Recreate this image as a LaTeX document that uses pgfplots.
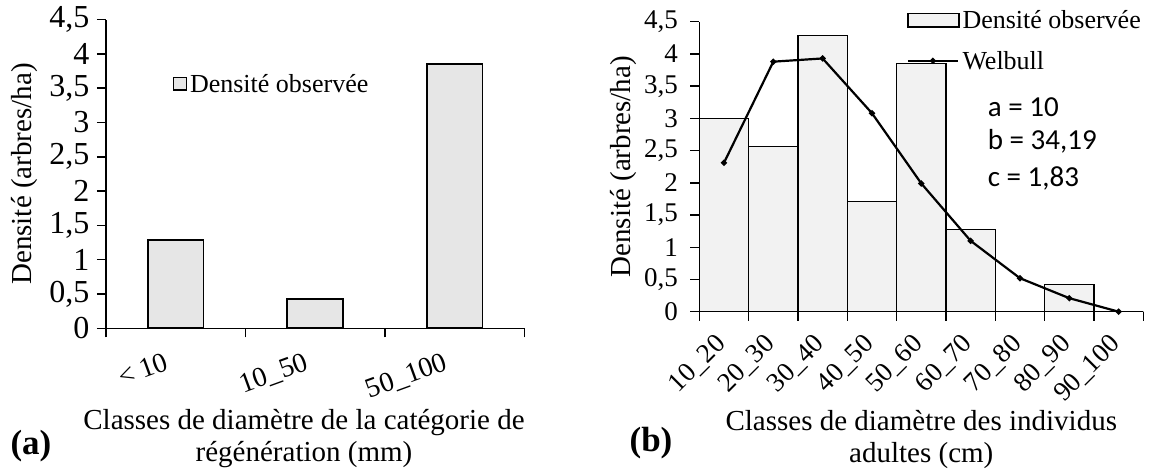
\documentclass[border=0pt]{standalone}
\usepackage{pgfplots}
\pgfplotsset{compat=1.18}
\usepackage{fontspec}
\setmainfont{Liberation Serif}
\newfontfamily\calibri{Carlito}
\definecolor{fillA}{RGB}{230,230,230}
\definecolor{fillB}{RGB}{242,242,242}

\pgfplotsset{
  mystyle/.style={
    scale only axis,
    axis lines*=left,
    axis line style={line width=1.5pt, black},
    tick align=outside,
    tick pos=left,
    major tick length=9pt,
    tick style={line width=1.5pt, black},
    /pgf/number format/assume math mode=true,
    yticklabel style={/pgf/number format/fixed, /pgf/number format/use comma, /pgf/number format/precision=1},
    ytick={0,0.5,1,1.5,2,2.5,3,3.5,4,4.5},
    ymin=0, ymax=4.5,
    x tick label as interval,
    clip=false,
  }
}

\begin{document}
\begin{tikzpicture}
\useasboundingbox (0pt,0pt) rectangle (1152pt,-472pt);

% ---------------- (a) ----------------
\begin{axis}[mystyle,
  at={(106pt,-328.3pt)}, anchor=south west,
  width=418.3pt, height=308.7pt,
  tick label style={font=\fontsize{32}{34}\selectfont},
  yticklabel style={xshift=-4pt},
  xmin=-0.5, xmax=2.5,
  xtick={-0.5,0.5,1.5,2.5},
  xticklabels={< 10,10\_50,50\_100},
  xticklabel style={font=\fontsize{28}{32}\selectfont, xshift=-10pt, yshift=-10pt, rotate=20, anchor=north east},
  every axis y label/.style={at={(-0.196,0.5)}, rotate=90, anchor=center, font=\fontsize{29}{32}\selectfont},
  ylabel={Densité (arbres/ha)},
  every axis x label/.style={at={(0.4733,-0.3586)}, anchor=center, align=center, font=\fontsize{29}{32}\selectfont},
  xlabel={Classes de diamètre de la catégorie de\\régénération (mm)},
  legend style={at={(0.16,0.792)}, anchor=west, draw=none, fill=none, inner sep=0pt,
    font=\fontsize{26}{30}\selectfont, nodes={inner xsep=3pt}},
  legend cell align=left,
]
\addplot[ybar, bar width=55.7pt, fill=fillA, draw=black, line width=1.8pt,
  legend image code/.code={\draw[fill=fillA, draw=black, line width=1.2pt] (0pt,-6.2pt) rectangle (12.7pt,6.2pt);}]
  coordinates {(0,1.29) (1,0.43) (2,3.85)};
\addlegendentry{Densité observée}
\end{axis}

% ---------------- (b) ----------------
\begin{axis}[mystyle,
  at={(699.3pt,-311.7pt)}, anchor=south west,
  width=444pt, height=290pt,
  tick label style={font=\fontsize{27}{30}\selectfont},
  yticklabel style={xshift=-9pt},
  xmin=0, xmax=9,
  xtick={0,1,2,3,4,5,6,7,8,9},
  xticklabels={10\_20,20\_30,30\_40,40\_50,50\_60,60\_70,70\_80,80\_90,90\_100},
  xticklabel style={font=\fontsize{27}{30}\selectfont, xshift=-10pt, yshift=-7pt, rotate=45, anchor=north east},
  every axis y label/.style={at={(-0.1696,0.5)}, rotate=90, anchor=center, font=\fontsize{29}{32}\selectfont},
  ylabel={Densité (arbres/ha)},
  every axis x label/.style={at={(0.5,-0.439)}, anchor=center, align=center, font=\fontsize{29}{32}\selectfont},
  xlabel={Classes de diamètre des individus\\adultes (cm)},
  legend style={at={(0.467,0.935)}, anchor=west, draw=none, fill=none, inner sep=0pt,
    font=\fontsize{26}{30}\selectfont, nodes={inner xsep=3pt}, row sep=17pt},
  legend cell align=left,
]
\addplot[ybar, bar width=1, fill=fillB, draw=black, line width=1.1pt,
  legend image code/.code={\draw[fill=fillB, draw=black, line width=1.1pt] (0pt,-6.7pt) rectangle (51pt,6.7pt);}]
  coordinates {(0.5,3.00) (1.5,2.57) (2.5,4.28) (3.5,1.71) (4.5,3.85) (5.5,1.28) (6.5,0) (7.5,0.42) (8.5,0)};
\addlegendentry{Densité observée}
\addplot[black, line width=2.2pt, mark=*, mark size=1.8pt,
  legend image code/.code={\draw[black, line width=2.2pt] (0pt,0pt) -- (50pt,0pt); \fill[black] (25pt,0pt) circle (1.8pt);}]
  coordinates {(0.5,2.31) (1.5,3.88) (2.5,3.93) (3.5,3.08) (4.5,1.99) (5.5,1.10) (6.5,0.52) (7.5,0.21) (8.5,0.00)};
\addlegendentry{Welbull}
\node[anchor=west, font=\calibri\fontsize{29}{32}\selectfont, inner sep=0pt] at (rel axis cs:0.6495,0.7069) {a = 10};
\node[anchor=west, font=\calibri\fontsize{29}{32}\selectfont, inner sep=0pt] at (rel axis cs:0.6495,0.5862) {b = 34,19};
\node[anchor=west, font=\calibri\fontsize{29}{32}\selectfont, inner sep=0pt] at (rel axis cs:0.6495,0.4600) {c = 1,83};
\end{axis}

\node[font=\bfseries\fontsize{35}{38}\selectfont] at (31pt,-446pt) {(a)};
\node[font=\bfseries\fontsize{35}{38}\selectfont] at (651pt,-443pt) {(b)};
\end{tikzpicture}
\end{document}
